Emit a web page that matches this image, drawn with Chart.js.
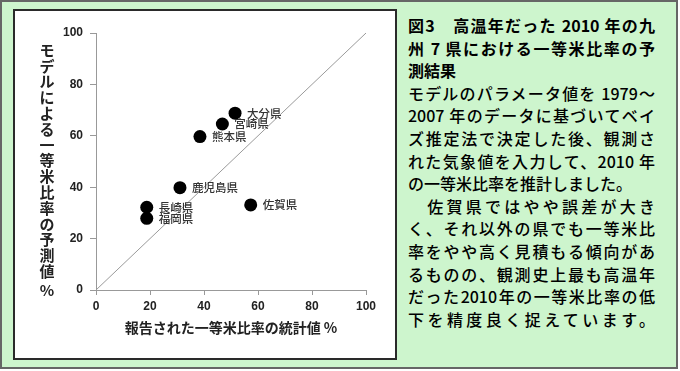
<!DOCTYPE html>
<html lang="ja">
<head>
<meta charset="utf-8">
<script src="https://cdn.jsdelivr.net/npm/chart.js@4/dist/chart.umd.min.js"></script>
<style>
  html, body { margin: 0; padding: 0; background: #fff; }
  body { width: 680px; height: 371px; position: relative; overflow: hidden; }
  .frame {
    position: absolute; left: 0; top: 0; width: 678px; height: 369px;
    box-sizing: border-box; border: 2px solid #666; background: #cdf5cd;
  }
  .plotbox {
    position: absolute; left: 13px; top: 9px; width: 384px; height: 351px;
    box-sizing: border-box; border: 2px solid #2a2a2a; background: #fff;
  }
  .note {
    position: absolute; left: 408px; top: 14px; width: 247px;
    font-family: "Noto Sans CJK JP", sans-serif; font-size: 16px; color: #000;
    font-weight: 500;
  }
  .note div { height: 22.6px; line-height: 22.6px; white-space: nowrap; }
  .note .t { font-weight: 700; }
  .note .j { text-align: justify; text-align-last: justify; }
  canvas { position: absolute; left: 0; top: 0; }
</style>
</head>
<body>
<div class="frame"></div>
<div class="plotbox"></div>
<div class="note">
  <div class="t j">図3　高温年だった 2010 年の九</div>
  <div class="t j">州 7 県における一等米比率の予</div>
  <div class="t">測結果</div>
  <div class="j">モデルのパラメータ値を 1979～</div>
  <div class="j">2007 年のデータに基づいてベイ</div>
  <div class="j">ズ推定法で決定した後、観測さ</div>
  <div class="j">れた気象値を入力して、2010 年</div>
  <div>の一等米比率を推計しました。</div>
  <div class="j">　佐賀県ではやや誤差が大き</div>
  <div class="j">く、それ以外の県でも一等米比</div>
  <div class="j">率をやや高く見積もる傾向があ</div>
  <div class="j">るものの、観測史上最も高温年</div>
  <div class="j">だった2010年の一等米比率の低</div>
  <div class="j">下を精度良く捉えています。</div>
</div>
<canvas id="chart" width="680" height="371"></canvas>
<script>
// prefectures and values (%)
const prefectures = ['大分県', '宮崎県', '熊本県', '鹿児島県', '佐賀県', '長崎県', '福岡県'];
const observed = [51.5, 46.8, 38.5, 31.1, 57.3, 18.8, 18.8];
const predicted = [68.8, 64.6, 59.7, 39.8, 33.1, 32.2, 27.9];
const refLine = [0, 100];
const xTitle = '報告された一等米比率の統計値 %';
const yTitle = 'モデルによる一等米比率の予測値 %';

const points = observed.map((x, i) => ({ x: x, y: predicted[i] }));

// names to the right of each dot
const pointLabels = {
  id: 'pointLabels',
  afterDatasetsDraw(chart) {
    const ctx = chart.ctx;
    const meta = chart.getDatasetMeta(1);
    ctx.save();
    ctx.font = '500 11.5px "Noto Sans CJK JP"';
    ctx.fillStyle = '#333';
    ctx.textBaseline = 'middle';
    meta.data.forEach((pt, i) => {
      ctx.fillText(prefectures[i], pt.x + 12, pt.y);
    });
    ctx.restore();
  }
};

// axis titles: x centered under the axis, y stacked upright
const axisTitles = {
  id: 'axisTitles',
  afterDraw(chart) {
    const ctx = chart.ctx;
    const area = chart.chartArea;
    ctx.save();
    ctx.fillStyle = '#222';
    ctx.font = 'bold 14px "Noto Sans CJK JP"';
    ctx.textAlign = 'center';
    ctx.textBaseline = 'middle';
    ctx.fillText(xTitle, (area.left + area.right) / 2, 328);

    ctx.font = 'bold 15px "Noto Sans CJK JP"';
    let y = 50;
    for (const ch of yTitle) {
      if (ch === ' ') { y += 3.5; continue; }
      ctx.fillText(ch, 47, y);
      y += 15.8;
    }
    ctx.restore();
  }
};

new Chart(document.getElementById('chart'), {
  type: 'scatter',
  data: {
    datasets: [
      {
        data: refLine.map(v => ({ x: v, y: v })),
        showLine: true,
        borderColor: '#9a9a9a',
        borderWidth: 1,
        pointRadius: 0
      },
      {
        data: points,
        backgroundColor: '#000',
        borderWidth: 0,
        pointRadius: 6.5
      }
    ]
  },
  options: {
    responsive: false,
    animation: false,
    layout: { padding: { left: 0, top: 33, right: 314, bottom: 0 } },
    plugins: { legend: { display: false }, tooltip: { enabled: false } },
    scales: {
      x: {
        min: 0, max: 100,
        ticks: { stepSize: 20, color: '#222', font: { size: 12, weight: 'bold', family: 'Liberation Sans' }, padding: 4 },
        grid: { drawOnChartArea: false, drawTicks: true, tickLength: 5, color: '#999' },
        border: { color: '#999' },
        afterFit(scale) { scale.height = 81; }
      },
      y: {
        min: 0, max: 100,
        ticks: { stepSize: 20, color: '#222', font: { size: 12, weight: 'bold', family: 'Liberation Sans' }, padding: 7 },
        grid: { drawOnChartArea: false, drawTicks: true, tickLength: 6, color: '#999' },
        border: { color: '#999' },
        afterFit(scale) { scale.width = 96; }
      }
    }
  },
  plugins: [pointLabels, axisTitles]
});
</script>
</body>
</html>
